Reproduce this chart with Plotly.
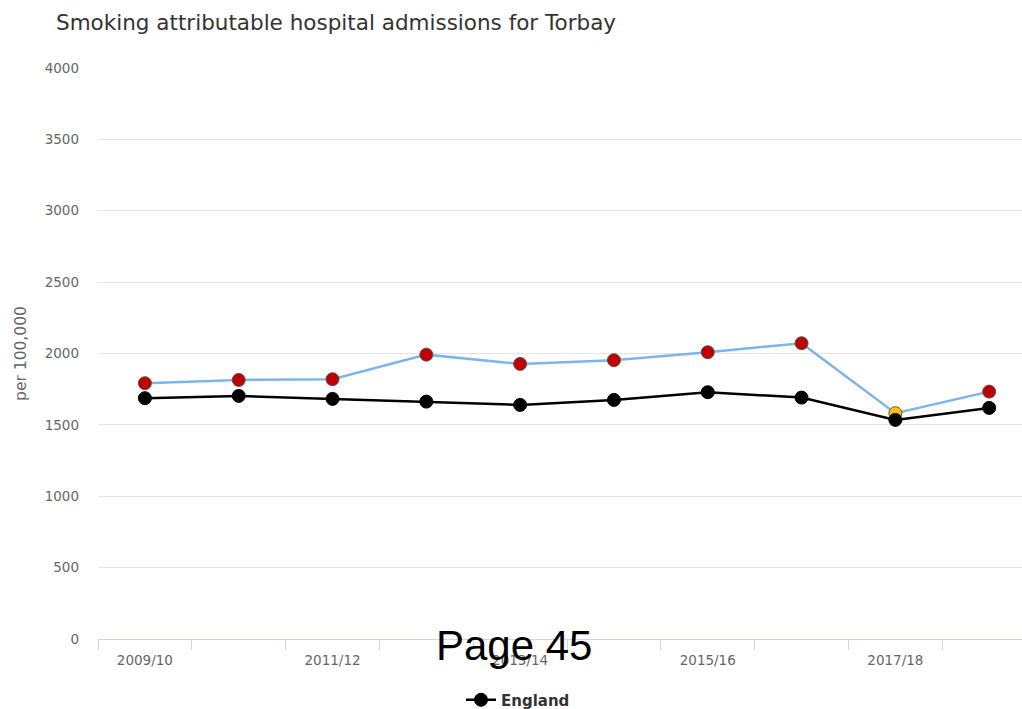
import plotly.graph_objects as go

categories = ["2009/10", "2010/11", "2011/12", "2012/13", "2013/14",
              "2014/15", "2015/16", "2016/17", "2017/18", "2018/19"]
torbay = [1792, 1815, 1820, 1992, 1927, 1953, 2009, 2072, 1582, 1733]
england = [1687, 1703, 1682, 1663, 1640, 1675, 1729, 1691, 1535, 1619]
torbay_colors = ["#c00000", "#c00000", "#c00000", "#c00000", "#c00000",
                 "#c00000", "#c00000", "#c00000", "#ffc000", "#c00000"]
tick_labels = ["2009/10", "2011/12", "2013/14", "2015/16", "2017/18"]
y_ticks = [0, 500, 1000, 1500, 2000, 2500, 3000, 3500, 4000]

FONT = "DejaVu Sans"
W, H = 1022, 709
L, R, T, B = 98, 0, 68, 70
PW, PH = W - L - R, H - T - B
xs = list(range(len(categories)))
label_pos = [categories.index(t) for t in tick_labels]

fig = go.Figure()
fig.add_trace(go.Scatter(
    x=xs, y=torbay, mode="lines+markers", name="Torbay", showlegend=False,
    line=dict(color="#7cb5ec", width=2.5),
    marker=dict(size=13, color=torbay_colors, line=dict(color="#555555", width=1)),
    customdata=categories,
))
fig.add_trace(go.Scatter(
    x=xs, y=england, mode="lines+markers", name="England",
    line=dict(color="#000000", width=2.5),
    marker=dict(size=13, color="#000000", line=dict(color="#000000", width=1)),
    customdata=categories,
))

fig.update_layout(
    width=W, height=H,
    margin=dict(l=L, r=R, t=T, b=B, autoexpand=False),
    paper_bgcolor="white", plot_bgcolor="white",
    font=dict(family=FONT, color="#666666", size=13.5),
    title=dict(text="Smoking attributable hospital admissions for Torbay",
               x=56 / W, xanchor="left", y=1 - 22 / H, yanchor="middle",
               font=dict(family=FONT, size=21.5, color="#333333")),
    showlegend=True,
    legend=dict(orientation="h", x=(518 - L) / PW, xanchor="center",
                y=-(700 - (H - B)) / PH, yanchor="middle",
                font=dict(family=FONT, size=15, color="#333333", weight="bold"),
                itemwidth=30),
)
fig.update_xaxes(
    range=[-0.5, 9.35], tickvals=label_pos, ticktext=tick_labels,
    ticks="", showgrid=False, zeroline=False, automargin=False,
    showline=True, linecolor="#ccd6eb", linewidth=1,
    tickfont=dict(family=FONT, size=13.5, color="#666666"),
    ticklabelstandoff=9,
    minor=dict(tick0=-0.5, dtick=1, ticks="outside", ticklen=10,
               tickcolor="#ccd6eb", showgrid=False),
)
fig.update_yaxes(
    range=[0, 4000], tickvals=y_ticks, showgrid=True, gridcolor="#e6e6e6",
    zeroline=False, showline=False, ticks="", automargin=False,
    tickfont=dict(family=FONT, size=13.5, color="#666666"),
    ticklabelstandoff=18,
    title=dict(text="per 100,000", font=dict(family=FONT, size=15.5, color="#666666"),
               standoff=14),
)
fig.add_annotation(text="Page 45", xref="paper", yref="paper",
                   x=(514 - L) / PW, y=-(645 - (H - B)) / PH,
                   xanchor="center", yanchor="middle", showarrow=False,
                   font=dict(family="Liberation Sans", size=42, color="#000000"))

fig.write_html("out.html", config={"displayModeBar": False},
               post_script="document.body.style.margin='0';document.body.style.overflow='hidden';")
